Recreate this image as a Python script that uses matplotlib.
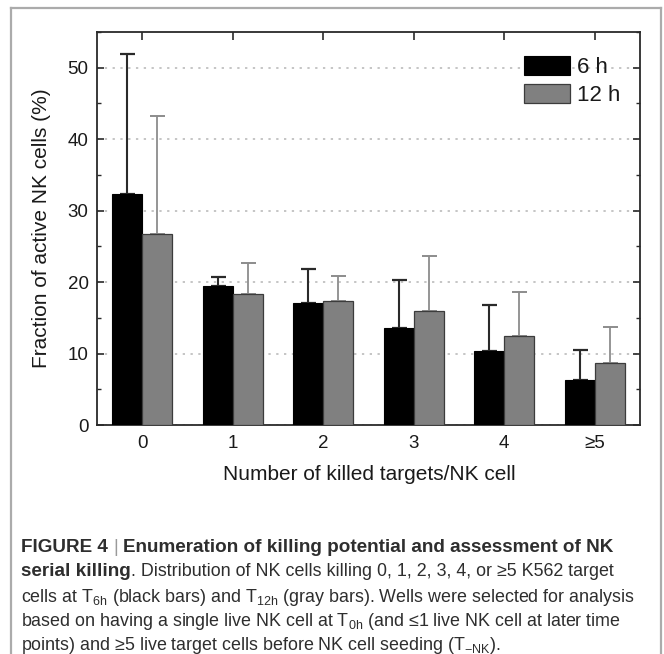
import numpy as np
import matplotlib
matplotlib.use("Agg")
import matplotlib.pyplot as plt
from matplotlib.patches import Patch
from matplotlib.lines import Line2D
from matplotlib.ticker import MultipleLocator

plt.rcParams['font.family'] = ['Liberation Sans', 'DejaVu Sans']
plt.rcParams['mathtext.fontset'] = 'custom'
plt.rcParams['mathtext.rm'] = 'Liberation Sans'
plt.rcParams['mathtext.default'] = 'regular'

# ---------------- data ----------------
categories = ["0", "1", "2", "3", "4", "\u22655"]
mean_6h = [32.3, 19.4, 17.1, 13.6, 10.3, 6.3]
err_6h = [19.6, 1.3, 4.7, 6.7, 6.5, 4.2]
mean_12h = [26.7, 18.4, 17.3, 15.9, 12.4, 8.7]
err_12h = [16.5, 4.3, 3.6, 7.8, 6.2, 5.0]
series_labels = ["6 h", "12 h"]
y_ticks = [0, 10, 20, 30, 40, 50]

W, H = 664, 654
fig = plt.figure(figsize=(W / 100, H / 100), dpi=100)

def fx(px):
    return px / W

def fy(py):
    return 1 - py / H

ax_l, ax_r, ax_t, ax_b = 97, 640, 32, 425
ax = fig.add_axes([fx(ax_l), fy(ax_b), fx(ax_r - ax_l), (ax_b - ax_t) / H])

x = np.arange(len(categories))
w = 0.33
ax.bar(x - w / 2, mean_6h, w, color='black', edgecolor='black', linewidth=0.8, zorder=3)
ax.bar(x + w / 2, mean_12h, w, color='#808080', edgecolor='#3c3c3c', linewidth=0.9, zorder=3)
zeros = np.zeros(len(categories))
ax.errorbar(x - w / 2, mean_6h, yerr=[zeros, err_6h], fmt='none', ecolor='#2a2a2a',
            elinewidth=1.5, capsize=5.4, capthick=1.6, zorder=2)
ax.errorbar(x + w / 2, mean_12h, yerr=[zeros, err_12h], fmt='none', ecolor='#8c8c8c',
            elinewidth=1.3, capsize=5.4, capthick=1.4, zorder=2)

ax.set_xlim(-0.5, len(categories) - 0.5)
ax.set_ylim(0, 55)
ax.set_xticks(x)
ax.set_xticklabels(categories)
ax.set_yticks(y_ticks)
ax.yaxis.set_minor_locator(MultipleLocator(5))

ax.yaxis.grid(True, which='major', linestyle=(0, (1.5, 3.6)), color='#b5b5b5', linewidth=1.1, zorder=0)
ax.set_axisbelow(True)

for s in ax.spines.values():
    s.set_color('#2a2a2a')
    s.set_linewidth(1.3)

ax.tick_params(axis='both', which='major', direction='in', length=5, width=1.2,
               color='#2a2a2a', labelsize=13.5, labelcolor='#1a1a1a')
ax.tick_params(axis='y', which='major', pad=6, right=True)
ax.tick_params(axis='y', which='minor', direction='in', length=3, width=1.0,
               color='#2a2a2a', right=True)
ax.tick_params(axis='x', which='major', top=True, pad=7, length=6)

fig.text(fx(369), fy(474), "Number of killed targets/NK cell", ha='center', va='center',
         fontsize=15, color='#1a1a1a')
fig.text(fx(42), fy(228.5), "Fraction of active NK cells (%)", ha='center', va='center',
         rotation=90, fontsize=15, color='#1a1a1a')

handles = [Patch(facecolor='black', edgecolor='black', linewidth=0.8),
           Patch(facecolor='#808080', edgecolor='#3c3c3c', linewidth=0.9)]
ax.legend(handles, series_labels, loc='upper left',
          bbox_to_anchor=(fx(524), fy(56)), bbox_transform=fig.transFigure,
          frameon=False, borderpad=0, borderaxespad=0, handlelength=2.05,
          handleheight=0.92, labelspacing=0.28, handletextpad=0.35, fontsize=16,
          labelcolor='#1a1a1a')

# figure frame (gray border)
bc = '#ababab'
fig.add_artist(Line2D([fx(11), fx(11)], [fy(8), 0], transform=fig.transFigure, color=bc, lw=1.6))
fig.add_artist(Line2D([fx(661), fx(661)], [fy(8), 0], transform=fig.transFigure, color=bc, lw=1.6))
fig.add_artist(Line2D([fx(11), fx(661)], [fy(8), fy(8)], transform=fig.transFigure, color=bc, lw=1.6))

# ---------------- caption ----------------
renderer = fig.canvas.get_renderer()
cap_color = '#2e2e2e'
line3 = "cells at T$_{6h}$ (black bars) and T$_{12h}$ (gray bars). Wells were selected for analysis"
t = fig.text(0, 0, line3, fontsize=10)
wpx = t.get_window_extent(renderer).width
t.remove()
cap_fs = 10 * 612 / wpx
bold_fs = cap_fs * 1.06

lines = [
    [("FIGURE 4 ", 'bold', cap_color), ("|", 'normal', '#9a9a9a'),
     (" Enumeration of killing potential and assessment of NK", 'bold', cap_color)],
    [("serial killing", 'bold', cap_color),
     (". Distribution of NK cells killing 0, 1, 2, 3, 4, or \u22655 K562 target", 'normal', cap_color)],
    [(line3, 'normal', cap_color)],
    [("based on having a single live NK cell at T$_{0h}$ (and \u22641 live NK cell at later time", 'normal', cap_color)],
    [("points) and \u22655 live target cells before NK cell seeding (T$_{-NK}$).", 'normal', cap_color)],
]
line_y = [546, 570, 594, 618, 642]
for runs, ly in zip(lines, line_y):
    xpos = 21
    for txt, wt, col in runs:
        fs = bold_fs if wt == 'bold' else cap_fs
        lead = len(txt) - len(txt.lstrip(' '))
        trail = len(txt) - len(txt.rstrip(' '))
        core = txt.strip(' ')
        sp = fig.text(0, 0, "a a", fontsize=fs, fontweight=wt)
        sa = fig.text(0, 0, "aa", fontsize=fs, fontweight=wt)
        space_w = sp.get_window_extent(renderer).width - sa.get_window_extent(renderer).width
        sp.remove(); sa.remove()
        xpos += lead * space_w
        tt = fig.text(fx(xpos), fy(ly), core, fontsize=fs, fontweight=wt, color=col,
                      ha='left', va='center_baseline')
        xpos += tt.get_window_extent(renderer).width + trail * space_w

fig.savefig("out.png", dpi=100)
